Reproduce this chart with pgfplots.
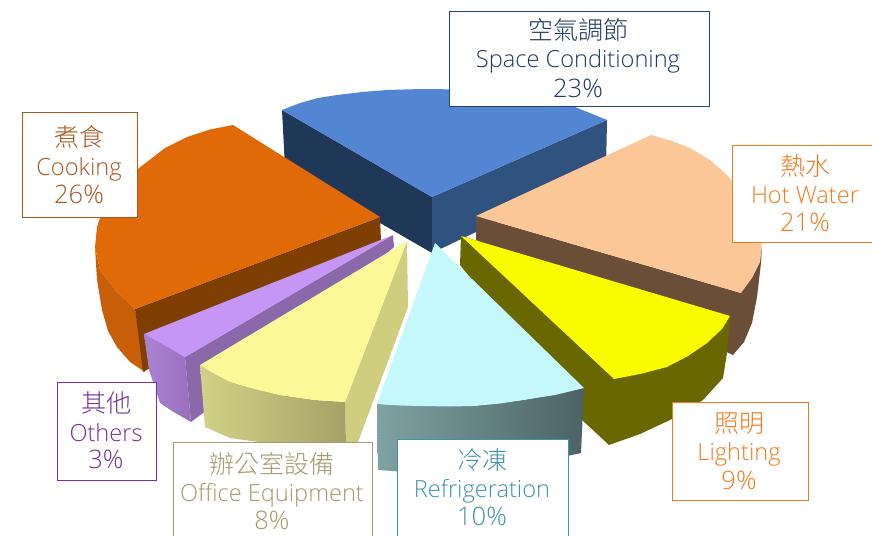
\documentclass[border=0pt]{standalone}
\usepackage{pgfplots}
\pgfplotsset{compat=1.18}
\usepackage{fontspec}
\setmainfont{Open Sans Light}
\newfontfamily\cjk{Noto Sans CJK TC Light}
\definecolor{bluetop}{HTML}{5286D2}
\definecolor{bluel}{HTML}{203858}
\definecolor{bluer}{HTML}{30527F}
\definecolor{peach}{HTML}{FBC797}
\definecolor{peachw}{HTML}{6B4E38}
\definecolor{oran}{HTML}{E06A08}
\definecolor{oranw}{HTML}{7F3F02}
\definecolor{orano}{HTML}{C65F08}
\definecolor{yel}{HTML}{FBFB00}
\definecolor{oliv}{HTML}{696700}
\definecolor{cyant}{HTML}{C5F8FA}
\definecolor{cyanl}{HTML}{80A2A3}
\definecolor{cyanr}{HTML}{4B6364}
\definecolor{offt}{HTML}{FBF897}
\definecolor{offr}{HTML}{CFCE7F}
\definecolor{offl}{HTML}{D2D186}
\definecolor{offd}{HTML}{A6A267}
\definecolor{lil}{HTML}{C596F5}
\definecolor{lilw}{HTML}{8A68AA}
\definecolor{lill}{HTML}{AC82D5}
\definecolor{lild}{HTML}{9970BE}
\definecolor{cS}{HTML}{1F3864}
\definecolor{bS}{HTML}{24456F}
\definecolor{cH}{HTML}{F27A1E}
\definecolor{cC}{HTML}{A9561C}
\definecolor{cO}{HTML}{7030A0}
\definecolor{cE}{HTML}{A59A6C}
\definecolor{cR}{HTML}{3F93AD}
\begin{document}
\begin{tikzpicture}
\path[use as bounding box] (0,0) rectangle (872bp,536bp);
\begin{axis}[
  scale only axis, width=872bp, height=536bp,
  xmin=0, xmax=872, ymin=0, ymax=536, y dir=reverse,
  hide axis, clip=true]
% Space conditioning
\addplot[draw=none,fill=bluel] coordinates {(282,110)(432,197)(432,253)(285,168)} --cycle;
\addplot[draw=none,fill=bluer] coordinates {(607,120)(432,197)(432,253)(606,170)} --cycle;
\addplot[draw=none,fill=bluetop] coordinates {(432,197)(282,110)(300,103)(318,98)(337,95)(362,92)(387,90)(410,89.3)(430,89)(480,90)(530,95)(570,105)(607,120)} --cycle;
% Hot water
\addplot[draw=none,fill=peachw] coordinates {(476,216)(741,293)(762,247)(761,263)(757,297)(752,323)(744,342)(733,355)(700,340)(476,240)} --cycle;
\addplot[draw=none,fill=peach] coordinates {(476,216)(651,135)(672,141)(690,148)(710,160)(727,175)(742,193)(752,210)(759,228)(762,247)(760,262)(752,278)(741,293)} --cycle;
% Cooking
\addplot[draw=none,fill=orano] coordinates {(95,247)(100,270)(116,291)(135,309)(145,372)(130,362)(117,347)(108,331)(102,310)(97,280)} --cycle;
\addplot[draw=none,fill=oranw] coordinates {(135,309)(380,217)(381,241)(143,372)} --cycle;
\addplot[draw=none,fill=oran] coordinates {(380,217)(233,125)(210,129.5)(187,137)(165,148)(143,165)(127,177.5)(113,193)(102,211)(97,227)(95,247)(100,270)(116,291)(135,309)} --cycle;
% Lighting
\addplot[draw=none,fill=oliv] coordinates {(461,236)(730,316)(727,353)(723,378)(703,400)(670,420)(640,434)(609,445)(582,420)(460,265)} --cycle;
\addplot[draw=none,fill=yel] coordinates {(461,236)(730,316)(722,329)(707,343)(688,356)(667,367)(640,374)(614,379)} --cycle;
% Others
\addplot[draw=none,left color=lill,right color=lild] coordinates {(144,334)(185,357)(191,422)(172,411)(160,403)(149,370)} --cycle;
\addplot[draw=none,fill=lilw] coordinates {(393,235)(394,247)(203,413)(191,422)(185,357)} --cycle;
\addplot[draw=none,fill=lil] coordinates {(144,334)(393,235)(185,357)} --cycle;
% Office equipment
\addplot[draw=none,fill=offr] coordinates {(407,241)(345,402)(346,445)(357,445)(408,307)} --cycle;
\addplot[draw=none,left color=offl,right color=offd] coordinates {(200,365)(230,382)(255,389)(280,395)(315,400)(345,402)(346,445)(280,445)(230,438)(205,427)} --cycle;
\addplot[draw=none,fill=offt] coordinates {(407,241)(200,365)(215,374)(230,382)(255,389)(280,395)(315,400)(345,402)} --cycle;
% Refrigeration
\addplot[draw=none,left color=cyanl,right color=cyanr] coordinates {(377,404)(423,406)(473,406)(523,400)(584,388)(581,453)(540,462)(480,470)(420,473)(378,470)} --cycle;
\addplot[draw=none,fill=cyant] coordinates {(435,243)(377,404)(400,405.5)(423,406)(450,406.5)(473,406)(500,403.5)(523,400)(555,395)(584,388)} --cycle;
% Label boxes
\addplot[draw=bS,line width=1bp,fill=white] coordinates {(449,12)(709,12)(709,107)(449,107)} --cycle;
\addplot[draw=cH,line width=1bp,fill=white] coordinates {(732,145)(880,145)(880,242)(732,242)} --cycle;
\addplot[draw=cC,line width=1bp,fill=white] coordinates {(22,113)(137,113)(137,217)(22,217)} --cycle;
\addplot[draw=cO,line width=1bp,fill=white] coordinates {(57,382)(156,382)(156,480)(57,480)} --cycle;
\addplot[draw=cE,line width=1bp,fill=white] coordinates {(173,442)(372,442)(372,545)(173,545)} --cycle;
\addplot[draw=cR,line width=1bp,fill=white] coordinates {(397,439)(568,439)(568,545)(397,545)} --cycle;
\addplot[draw=cH,line width=1bp,fill=white] coordinates {(672,402)(808,402)(808,500)(672,500)} --cycle;
% Label text: x, then baselines of the three lines
\def\lb#1#2#3#4#5#6#7#8{%
 \node[anchor=base,inner sep=0pt,text=#1,font=\fontsize{25bp}{26bp}\selectfont\cjk] at (axis cs:#2,#3) {#6};
 \node[anchor=base,inner sep=0pt,text=#1,font=\fontsize{23.6bp}{26bp}\selectfont] at (axis cs:#2,#4) {#7};
 \node[anchor=base,inner sep=0pt,text=#1,font=\fontsize{25.5bp}{26bp}\selectfont] at (axis cs:#2,#5) {#8};}
\lb{cS}{578}{40}{68}{97.5}{空氣調節}{Space Conditioning}{23\%}
\lb{cH}{805}{175}{203}{231.5}{熱水}{Hot Water}{21\%}
\lb{cC}{79}{146}{175}{203.5}{煮食}{Cooking}{26\%}
\lb{cO}{106}{412}{441}{468.5}{其他}{Others}{3\%}
\lb{cE}{272}{473}{501}{529.5}{辦公室設備}{Office Equipment}{8\%}
\lb{cR}{482}{469}{497}{525.5}{冷凍}{Refrigeration}{10\%}
\lb{cH}{739}{432}{460}{489.5}{照明}{Lighting}{9\%}
\end{axis}
\end{tikzpicture}
\end{document}
